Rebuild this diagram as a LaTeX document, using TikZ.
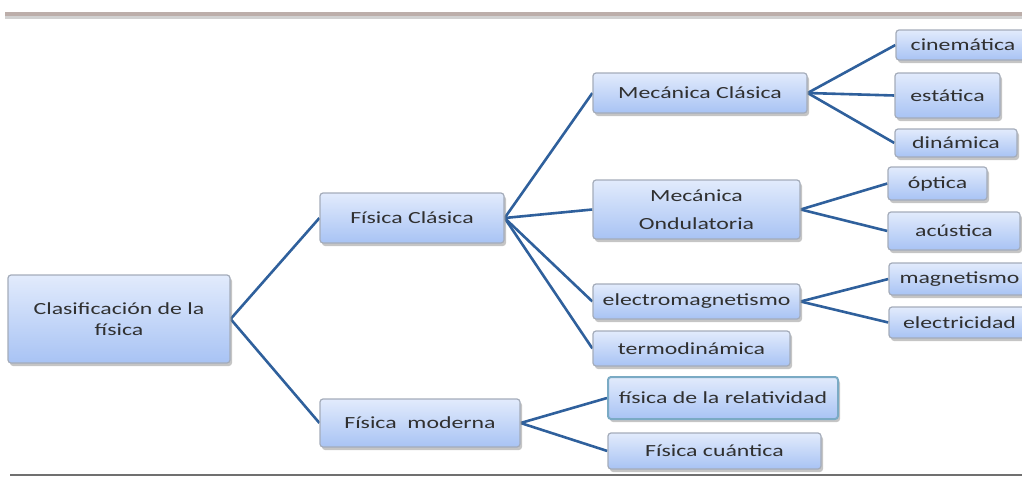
\documentclass[tikz,border=0pt]{standalone}
\usepackage{fontspec}
\setmainfont{Carlito}[FakeStretch=1.4]
\usetikzlibrary{shadows,backgrounds}
\definecolor{boxtop}{HTML}{E2EBFC}
\definecolor{boxbot}{HTML}{A8C3F4}
\definecolor{boxline}{HTML}{A4ACBA}
\definecolor{linkc}{HTML}{2F609C}
\definecolor{txt}{HTML}{303030}
\definecolor{relline}{HTML}{7AAAC4}
\definecolor{topbar}{HTML}{BCAEAA}
\definecolor{botline}{HTML}{707070}
\tikzset{
  box/.style={draw=boxline, line width=1.2pt, rounded corners=3pt,
    top color=boxtop, bottom color=boxbot,
    drop shadow={shadow xshift=2pt, shadow yshift=-3pt, fill=black!45},
    font=\fontsize{17}{21}\selectfont, text=txt, align=center, inner sep=0pt},
  link/.style={draw=linkc, line width=2.6pt},
}
\begin{document}
\begin{tikzpicture}[x=1pt,y=-1pt]
\useasboundingbox (0,0) rectangle (1022,479);
\clip (0,0) rectangle (1022,479);
\fill[topbar] (5,12) rectangle (1022,16);
\fill[black!18] (5,16) rectangle (1022,19);
\draw[botline, line width=2pt] (10,475) -- (1022,475);

\node[box, minimum width=222pt, minimum height=88pt] (root) at (119,319) {Clasificación de la\\física};
\node[box, minimum width=184pt, minimum height=50pt] (fc) at (412,218) {Física Clásica};
\node[box, minimum width=200pt, minimum height=48pt] (fm) at (420,423) {Física\ \ moderna};
\node[box, minimum width=214pt, minimum height=40pt] (mc) at (700,93) {Mecánica Clásica};
\node[box, minimum width=207pt, minimum height=59pt] (mo) at (696.5,209.5) {Mecánica\\[7pt]Ondulatoria};
\node[box, minimum width=207pt, minimum height=35pt] (em) at (696.5,301.5) {electromagnetismo};
\node[box, minimum width=197pt, minimum height=35pt] (td) at (691.5,348.5) {termodinámica};
\node[box, minimum width=134pt, minimum height=30pt] (cin) at (963,45) {cinemática};
\node[box, minimum width=105pt, minimum height=45pt] (est) at (947.5,95.5) {estática};
\node[box, minimum width=122pt, minimum height=28pt] (din) at (956,143) {dinámica};
\node[box, minimum width=99pt, minimum height=33pt] (opt) at (937.5,183.5) {óptica};
\node[box, minimum width=132pt, minimum height=38pt] (acu) at (954,231) {acústica};
\node[box, minimum width=141pt, minimum height=32pt] (mag) at (959.5,279) {magnetismo};
\node[box, minimum width=141pt, minimum height=31pt] (ele) at (959.5,322.5) {electricidad};
\node[box, draw=relline, line width=2pt, minimum width=230pt, minimum height=42pt] (rel) at (723,398) {física de la relatividad};
\node[box, minimum width=213pt, minimum height=36pt] (cua) at (714.5,451) {Física cuántica};

\begin{scope}[on background layer]
\draw[link] (root.east) -- (fc.west);
\draw[link] (root.east) -- (fm.west);
\draw[link] (fc.east) -- (mc.west);
\draw[link] (fc.east) -- (mo.west);
\draw[link] (fc.east) -- (em.west);
\draw[link] (fc.east) -- (td.west);
\draw[link] (mc.east) -- (cin.west);
\draw[link] (mc.east) -- (est.west);
\draw[link] (mc.east) -- (din.west);
\draw[link] (mo.east) -- (opt.west);
\draw[link] (mo.east) -- (acu.west);
\draw[link] (em.east) -- (mag.west);
\draw[link] (em.east) -- (ele.west);
\draw[link] (fm.east) -- (rel.west);
\draw[link] (fm.east) -- (cua.west);
\end{scope}
\end{tikzpicture}
\end{document}
